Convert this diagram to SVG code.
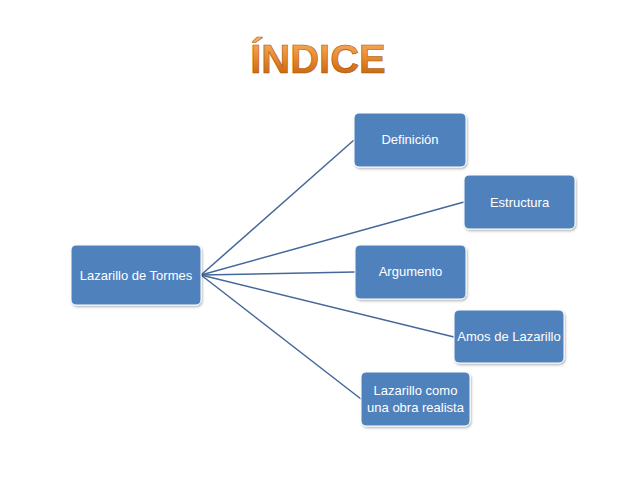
<svg xmlns="http://www.w3.org/2000/svg" width="638" height="479" viewBox="0 0 638 479">
<defs>
<linearGradient id="tg" x1="0" y1="0" x2="0" y2="1">
<stop offset="0" stop-color="#F9B46A"/>
<stop offset="0.5" stop-color="#E8862A"/>
<stop offset="1" stop-color="#B85C0C"/>
</linearGradient>
<filter id="sh" x="-10%" y="-10%" width="130%" height="130%">
<feDropShadow dx="1" dy="1.5" stdDeviation="1" flood-color="#000" flood-opacity="0.3"/>
</filter>
</defs>
<style>
.box{fill:#4F81BD;stroke:#ffffff;stroke-width:1;filter:url(#sh)}
.lbl{fill:#ffffff;font-family:"Liberation Sans",Arial,sans-serif;font-size:13px;text-anchor:middle}
.edge{stroke:#44689A;stroke-width:1.5;fill:none}
</style>
<rect width="638" height="479" fill="#ffffff"/>
<text x="318" y="73" font-family="'Liberation Sans',Arial,sans-serif" font-weight="bold" font-size="40" text-anchor="middle" fill="url(#tg)" stroke="#A85408" stroke-width="0.6">ÍNDICE</text>
<g id="connectors">
<line class="edge" x1="201" y1="275" x2="354" y2="140"/>
<line class="edge" x1="201" y1="275" x2="464" y2="202"/>
<line class="edge" x1="201" y1="275" x2="355" y2="272"/>
<line class="edge" x1="201" y1="275" x2="454" y2="337"/>
<line class="edge" x1="201" y1="275" x2="361" y2="399"/>
</g>
<g id="root">
<rect class="box" x="71" y="245" width="130" height="60" rx="5"/>
<text class="lbl" x="136" y="280">Lazarillo de Tormes</text>
</g>
<g id="definicion">
<rect class="box" x="354" y="113" width="112" height="54" rx="5"/>
<text class="lbl" x="410" y="144">Definición</text>
</g>
<g id="estructura">
<rect class="box" x="464" y="175" width="111" height="54" rx="5"/>
<text class="lbl" x="519.5" y="207">Estructura</text>
</g>
<g id="argumento">
<rect class="box" x="355" y="245" width="111" height="54" rx="5"/>
<text class="lbl" x="410.5" y="276">Argumento</text>
</g>
<g id="amos">
<rect class="box" x="454" y="310" width="110" height="53" rx="5"/>
<text class="lbl" x="509" y="341">Amos de Lazarillo</text>
</g>
<g id="realista">
<rect class="box" x="361" y="372" width="109" height="54" rx="5"/>
<text class="lbl" x="415.5" y="395">Lazarillo como</text>
<text class="lbl" x="415.5" y="412">una obra realista</text>
</g>
</svg>
